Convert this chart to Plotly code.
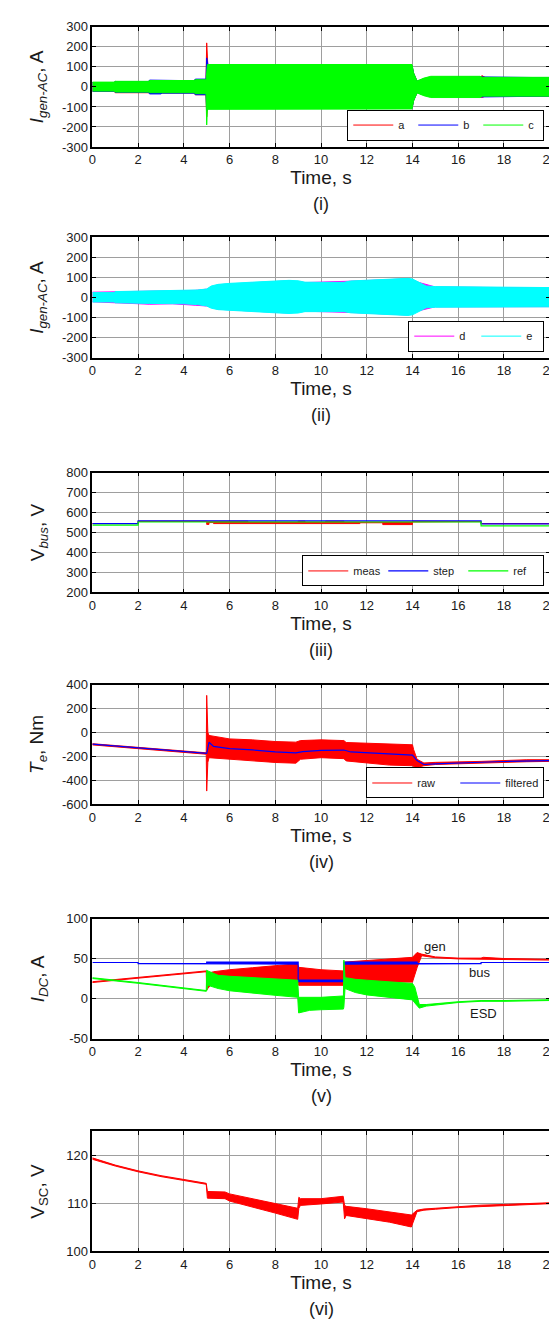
import numpy as np
import plotly.graph_objects as go

# ---------------- data ----------------
time_ticks = [0, 2, 4, 6, 8, 10, 12, 14, 16, 18, 20]

# (i) generator AC phase currents a, b, c : oscillation envelopes (hi / lo)
a_t  = [0, 0.95, 1.0, 2.45, 2.5, 4.45, 4.5, 4.97, 5.0, 5.02, 5.05, 13.98, 14.05, 14.2, 14.5, 14.8, 16.95, 17.05, 17.2, 20]
a_hi = [22, 22, 26, 26, 31, 31, 35, 35, 220, 170, 105, 105, 68, 28, 40, 48, 50, 56, 46, 46]
a_lo = [-22, -22, -29, -29, -30, -30, -39, -39, -150, -120, -105, -105, -68, -28, -40, -48, -50, -52, -46, -46]
b_t  = [0, 0.95, 1.0, 2.45, 2.5, 3.0, 3.05, 4.45, 4.5, 4.97, 5.0, 5.03, 5.06, 13.98, 14.05, 14.2, 14.5, 14.8, 17, 20]
b_hi = [22, 22, 27, 27, 34, 34, 31, 31, 39, 39, 145, 120, 108, 108, 68, 28, 40, 48, 50, 46]
b_lo = [-22, -22, -27, -27, -35, -35, -31, -31, -39, -39, -120, -100, -108, -108, -68, -28, -40, -48, -50, -46]
c_t  = [0, 0.95, 1.0, 2.45, 2.5, 4.45, 4.5, 4.97, 5.0, 5.03, 5.08, 13.98, 14.05, 14.2, 14.5, 14.8, 16.95, 17.05, 20]
c_hi = [24, 24, 28, 28, 32, 32, 36, 36, 70, 112, 112, 112, 70, 30, 44, 53, 53, 48, 48]
c_lo = [-21, -21, -26, -26, -29, -29, -34, -34, -190, -112, -110, -110, -70, -30, -44, -53, -53, -46, -46]

# (ii) d, e currents : envelopes
d_t  = [0, 1.0, 2.5, 3.5, 4.5, 5.0, 5.5, 8.6, 9.3, 11.3, 13.8, 14.3, 15, 20]
d_hi = [27, 29, 32, 33, 36, 42, 64, 84, 75, 82, 94, 75, 53, 48]
d_lo = [-21, -25, -33, -31, -38, -42, -58, -77, -68, -74, -87, -65, -46, -45]
e_t  = [0, 0.95, 1.0, 2.5, 4.0, 4.6, 5.0, 5.2, 5.5, 6, 7, 8, 8.6, 9.0, 9.3, 10, 11, 11.3, 12, 13, 13.8, 14.0, 14.3, 14.6, 15, 17, 17.5, 20]
e_hi = [25, 25, 30, 33, 35, 38, 43, 58, 66, 71, 77, 83, 86, 84, 77, 76, 76, 83, 86, 92, 96, 93, 77, 58, 55, 54, 50, 50]
e_lo = [-22, -22, -26, -29, -31, -35, -42, -53, -60, -64, -70, -76, -79, -77, -70, -70, -70, -76, -79, -86, -89, -86, -67, -51, -48, -47, -46, -46]

# (iii) DC bus voltage
meas_t  = [0, 2, 2, 5.0, 5.0, 5.1, 5.1, 5.3, 5.3, 6.8, 6.8, 9.0, 9.0, 9.3, 9.3, 10.2, 10.2, 11.0, 11.0, 11.7, 11.7, 12.7, 12.7, 14.0, 14.0, 15.0, 15.0, 17, 17, 20]
meas_hi = [545, 545, 556, 556, 556, 556, 556, 556, 557, 557, 553, 553, 557, 557, 553, 553, 557, 557, 553, 553, 553, 553, 553, 553, 557, 557, 555, 555, 545, 545]
meas_lo = [545, 545, 556, 556, 541, 541, 550, 550, 545, 545, 545, 545, 545, 545, 545, 545, 545, 545, 545, 545, 549, 549, 540, 540, 553, 553, 555, 555, 545, 545]
step_t = [0, 2, 2, 17, 17, 20]
step_v = [545, 545, 559, 559, 544, 544]
ref_t  = [0, 2, 2, 17, 17, 20]
ref_v  = [537, 537, 553, 553, 533, 533]

# (iv) electromagnetic torque
raw_t  = [0, 4.98, 5.0, 5.02, 5.05, 5.1, 5.5, 6, 7, 8, 8.9, 9.1, 10, 11, 11.1, 12, 13, 14.0, 14.05, 14.2, 14.5, 15, 17, 19, 20]
raw_hi = [-94, -170, 310, 150, 0, -25, -40, -54, -62, -76, -81, -68, -62, -68, -84, -89, -97, -103, -143, -224, -255, -250, -242, -228, -228]
raw_lo = [-104, -182, -490, -340, -250, -211, -219, -224, -238, -251, -257, -224, -211, -219, -238, -257, -273, -278, -285, -292, -278, -268, -257, -245, -242]
filt_t = [0, 5.0, 5.03, 5.1, 5.3, 6, 7, 8, 8.9, 9.2, 10, 11, 11.3, 12, 13, 14, 14.2, 14.5, 15, 16, 17, 18, 20]
filt_v = [-98, -175, -150, -82, -116, -135, -146, -163, -170, -160, -150, -147, -163, -170, -183, -190, -235, -268, -262, -253, -249, -243, -235]

# (v) DC currents
gen_t  = [0, 4.98, 5.0, 5.05, 5.3, 6, 7, 8, 8.98, 9.02, 10, 10.98, 11.02, 12, 13, 14, 14.2, 14.4, 15, 16, 17, 17.1, 18, 20]
gen_hi = [21.5, 35, 34, 32, 34, 36.5, 39, 41.5, 44, 39.5, 36.5, 35, 46, 48, 50, 52, 58, 56, 52.5, 51, 51, 52, 50.5, 49.5]
gen_lo = [20.5, 34, 11, 13, 22, 24, 24, 23, 22, 17, 17, 17, 21, 21, 21, 21, 39, 54, 51.5, 50, 50, 50, 49.5, 48.5]
bus_t  = [0, 2, 2, 5, 5, 9, 9, 11, 11, 14.2, 14.2, 17, 17, 20]
bus_hi = [45.5, 45.5, 44, 44, 46, 46, 23.5, 23.5, 46, 46, 44, 44, 45.5, 45.5]
bus_lo = [45.5, 45.5, 44, 44, 43.5, 43.5, 21.5, 21.5, 43.5, 43.5, 44, 44, 45.5, 45.5]
esd_t  = [0, 2, 4.98, 5.0, 5.05, 5.5, 6, 7, 8, 8.98, 9.02, 9.5, 10, 10.98, 11.0, 11.05, 11.5, 12, 13, 14, 14.1, 14.2, 14.3, 14.6, 15, 16, 17, 18, 20]
esd_hi = [26.5, 20.5, 10.5, 36, 35, 29.5, 28.3, 26.6, 25, 23.4, 2, 2, 2, 3.7, 48.5, 26.6, 24.5, 23.4, 21.3, 19.3, 15, 3, -7, -7, -6, -3.5, -2, -2, -1]
esd_lo = [25.5, 19.5, 9.5, 10, 17, 13, 10.2, 7, 4.5, 2, -17.5, -14.3, -13.5, -12.7, -10, 13, 8, 5, 2, -1.2, -5, -8.6, -11.5, -9, -7.2, -4.5, -3, -3, -2]

# (vi) supercapacitor voltage
vsc_t  = [0, 1, 2, 3, 4, 4.98, 5.03, 5.8, 6, 7, 8, 8.98, 9.03, 9.1, 10, 10.97, 11.03, 11.1, 12, 13, 13.95, 14.2, 14.5, 15, 16, 17, 18, 20]
vsc_hi = [119.5, 118.0, 116.8, 115.8, 115.0, 114.2, 112.5, 112.4, 112.0, 111.0, 109.9, 109.0, 111.3, 111.0, 111.0, 111.5, 109.6, 109.4, 108.9, 108.2, 107.6, 108.6, 108.85, 109.0, 109.35, 109.65, 109.8, 110.15]
vsc_lo = [119.2, 117.8, 116.6, 115.6, 114.8, 114.0, 111.1, 111.0, 110.5, 109.2, 108.0, 106.7, 109.0, 109.6, 109.9, 110.3, 106.8, 107.5, 106.8, 106.1, 105.1, 108.3, 108.6, 108.8, 109.15, 109.45, 109.6, 109.95]

# axis ranges / ticks
y_ranges = [[-300, 300], [-300, 300], [200, 800], [-600, 400], [-50, 100], [100, 125]]
y_ticks = [
    [-300, -200, -100, 0, 100, 200, 300],
    [-300, -200, -100, 0, 100, 200, 300],
    [200, 300, 400, 500, 600, 700, 800],
    [-600, -400, -200, 0, 200, 400],
    [-50, 0, 50, 100],
    [100, 110, 120],
]
y_titles = [
    "<i>I<sub>gen-AC</sub></i>, A",
    "<i>I<sub>gen-AC</sub></i>, A",
    "V<sub><i>bus</i></sub>, V",
    "<i>T<sub>e</sub></i>, Nm",
    "<i>I<sub>DC</sub></i>, A",
    "V<sub>SC</sub>, V",
]
panel_labels = ["(i)", "(ii)", "(iii)", "(iv)", "(v)", "(vi)"]

RED, BLUE, GREEN = "#ff0000", "#0000ff", "#00ff00"
MAGENTA, CYAN = "#ff00ff", "#00ffff"
FONT = "Liberation Sans, Arial, sans-serif"
TXT = "#1a1a1a"

fig = go.Figure()


def ax_names(k):
    return ("x" if k == 1 else f"x{k}"), ("y" if k == 1 else f"y{k}")


def band(t, hi, lo, color, k, width=1.0):
    xa, ya = ax_names(k)
    xs = list(t) + list(t)[::-1]
    ys = list(hi) + list(lo)[::-1]
    fig.add_trace(go.Scatter(
        x=xs, y=ys, mode="lines", fill="toself", fillcolor=color,
        line=dict(color=color, width=width), showlegend=False, hoverinfo="skip",
        xaxis=xa, yaxis=ya))


def proxy(name, color, k, legend):
    xa, ya = ax_names(k)
    fig.add_trace(go.Scatter(
        x=[None], y=[None], mode="lines", name=name, line=dict(color=color, width=1),
        legend=legend, xaxis=xa, yaxis=ya))


def line(t, v, color, k, name=None, legend=None, width=1.2):
    xa, ya = ax_names(k)
    fig.add_trace(go.Scatter(
        x=t, y=v, mode="lines", line=dict(color=color, width=width),
        name=name, showlegend=name is not None, legend=legend, hoverinfo="skip",
        xaxis=xa, yaxis=ya))


# (i)
band(a_t, a_hi, a_lo, RED, 1); proxy("a", RED, 1, "legend")
band(b_t, b_hi, b_lo, BLUE, 1); proxy("b", BLUE, 1, "legend")
band(c_t, c_hi, c_lo, GREEN, 1); proxy("c", GREEN, 1, "legend")
# (ii)
band(d_t, d_hi, d_lo, MAGENTA, 2); proxy("d", MAGENTA, 2, "legend2")
band(e_t, e_hi, e_lo, CYAN, 2); proxy("e", CYAN, 2, "legend2")
# (iii)
band(meas_t, meas_hi, meas_lo, RED, 3, width=1.0); proxy("meas", RED, 3, "legend3")
line(step_t, step_v, BLUE, 3, "step", "legend3")
line(ref_t, ref_v, GREEN, 3, "ref", "legend3")
# (iv)
band(raw_t, raw_hi, raw_lo, RED, 4); proxy("raw", RED, 4, "legend4")
line(filt_t, filt_v, BLUE, 4, "filtered", "legend4")
# (v)
band(gen_t, gen_hi, gen_lo, RED, 5)
band(bus_t, bus_hi, bus_lo, BLUE, 5, width=1.2)
band(esd_t, esd_hi, esd_lo, GREEN, 5)
# (vi)
band(vsc_t, vsc_hi, vsc_lo, RED, 6)

W, H = 557, 1320
x_dom = [82 / W, 548.5 / W]
rows = [(12, 133.5), (225, 346.7), (463, 584), (677.3, 798.3), (914.3, 1035.7), (1129.3, 1250.7)]
y_standoff = [13, 13, 17, 13, 17, 17]

axis_common = dict(
    showline=True, linecolor="black", linewidth=1.5, mirror="allticks",
    ticks="inside", ticklen=4, tickcolor="black", tickwidth=1,
    showgrid=True, gridcolor="#9e9e9e", gridwidth=1, zeroline=False,
    tickfont=dict(family=FONT, size=13, color=TXT),
)

layout = dict(
    width=W, height=H, margin=dict(l=0, r=0, t=0, b=0),
    paper_bgcolor="white", plot_bgcolor="white",
    font=dict(family=FONT, color=TXT), showlegend=True,
)
annotations = []
for i, (top, bot) in enumerate(rows):
    k = i + 1
    xs = "xaxis" if k == 1 else f"xaxis{k}"
    ys = "yaxis" if k == 1 else f"yaxis{k}"
    xa, ya = ax_names(k)
    layout[xs] = dict(
        axis_common, domain=x_dom, range=[0, 20], tickvals=time_ticks,
        ticktext=[str(v) for v in time_ticks], anchor=ya,
        title=dict(text="Time, s", font=dict(family=FONT, size=19, color=TXT), standoff=4),
    )
    layout[ys] = dict(
        axis_common, domain=[1 - bot / H, 1 - top / H], range=y_ranges[i],
        tickvals=y_ticks[i], ticktext=[str(v) for v in y_ticks[i]],
        anchor=xa,
        title=dict(text=y_titles[i], font=dict(family=FONT, size=19, color=TXT),
                   standoff=y_standoff[i]),
    )
    annotations.append(dict(
        text=panel_labels[i], xref="paper", yref="paper", x=(x_dom[0] + x_dom[1]) / 2,
        y=1 - (bot + 58) / H, xanchor="center", yanchor="middle", showarrow=False,
        font=dict(family=FONT, size=18, color=TXT)))

# curve labels on panel (v)
for txt, xv, yv in [("gen", 15.0, 66), ("bus", 16.95, 33.5), ("ESD", 17.1, -18.5)]:
    annotations.append(dict(text=txt, x=xv, y=yv, xref="x5", yref="y5", showarrow=False,
                            font=dict(family=FONT, size=13, color=TXT)))
layout["annotations"] = annotations

leg_common = dict(orientation="h", xanchor="right", yanchor="bottom", bgcolor="white",
                  bordercolor="black", borderwidth=1, font=dict(family=FONT, size=11, color=TXT),
                  itemwidth=40, entrywidthmode="pixels", traceorder="normal")
layout["legend"] = dict(leg_common, x=543 / W, y=1 - 127 / H, entrywidth=10)
layout["legend2"] = dict(leg_common, x=543 / W, y=1 - 340.5 / H, entrywidth=12)
layout["legend3"] = dict(leg_common, x=543 / W, y=1 - 578 / H, entrywidth=25)
layout["legend4"] = dict(leg_common, x=543 / W, y=1 - 792.5 / H, entrywidth=33)

fig.update_layout(**layout)
fig.write_html("out.html")
